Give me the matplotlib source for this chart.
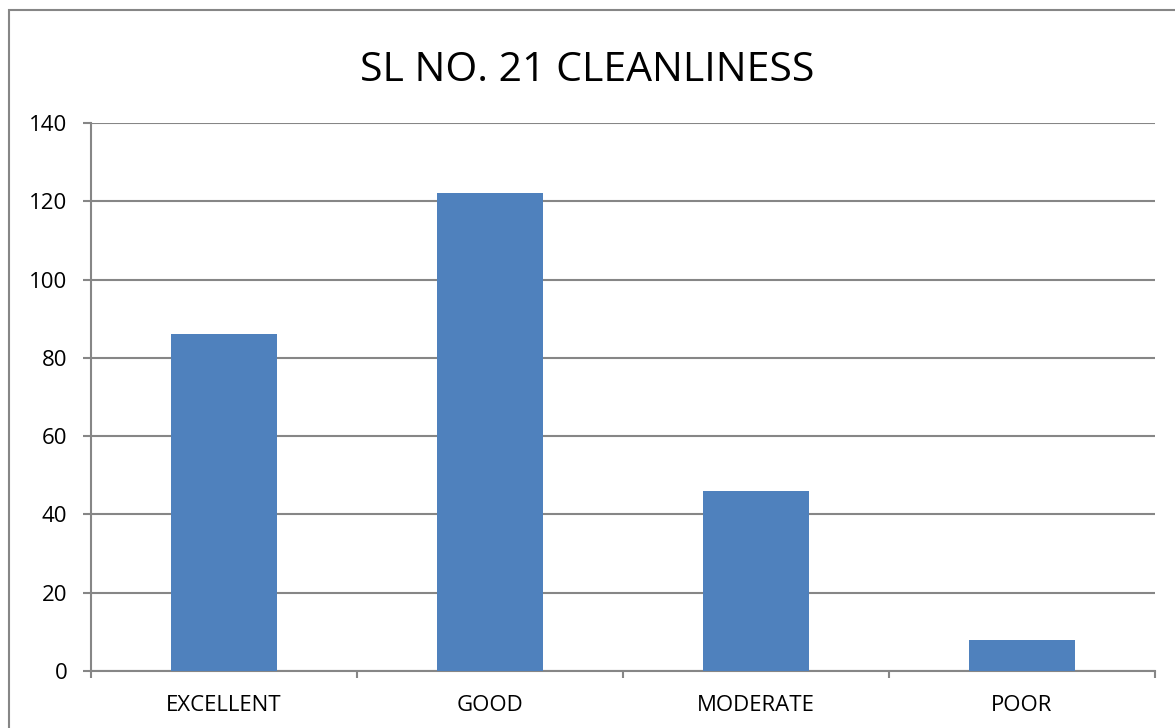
import matplotlib.pyplot as plt
import matplotlib.patches as patches
import numpy as np

categories = ['EXCELLENT', 'GOOD', 'MODERATE', 'POOR']
values = [86, 122, 46, 8]
title = 'SL NO. 21 CLEANLINESS'

plt.rcParams['font.family'] = ['Open Sans', 'DejaVu Sans']

fig = plt.figure(figsize=(11.75, 7.28), dpi=100)
ax = fig.add_axes([91/1175, 57/728, 1064/1175, 548/728])

x = np.arange(len(categories))
ax.bar(x, values, width=0.4, color='#4F81BD', zorder=3)

ax.set_xlim(-0.5, len(categories) - 0.5)
ax.set_ylim(0, 140)
ax.set_yticks(range(0, 141, 20))
ax.yaxis.grid(True, color='#868686', linewidth=1.5, zorder=0)

# category separators as x ticks
ax.set_xticks(np.arange(-0.5, len(categories), 1.0))
ax.set_xticklabels([])
ax.set_xticks(x, minor=True)
ax.set_xticklabels(categories, minor=True, fontsize=16)
ax.tick_params(axis='x', which='major', length=5, color='#868686', width=1.5, direction='out')
ax.tick_params(axis='x', which='minor', length=0, pad=17)
ax.tick_params(axis='y', length=6, color='#868686', width=1.5, labelsize=16, pad=11)

for s in ['top', 'right']:
    ax.spines[s].set_visible(False)
for s in ['left', 'bottom']:
    ax.spines[s].set_color('#868686')
    ax.spines[s].set_linewidth(1.5)

fig.text(0.5, 1 - 71/728, title, ha='center', va='center', fontsize=29.5)

# chart border (only left and top are inside the image)
fig.patches.append(patches.Rectangle((9/1175, -0.1), 1.2, 1.1 - 10/728,
                                     transform=fig.transFigure, fill=False,
                                     edgecolor='#868686', linewidth=1.5))

fig.savefig('out.png', dpi=100)
